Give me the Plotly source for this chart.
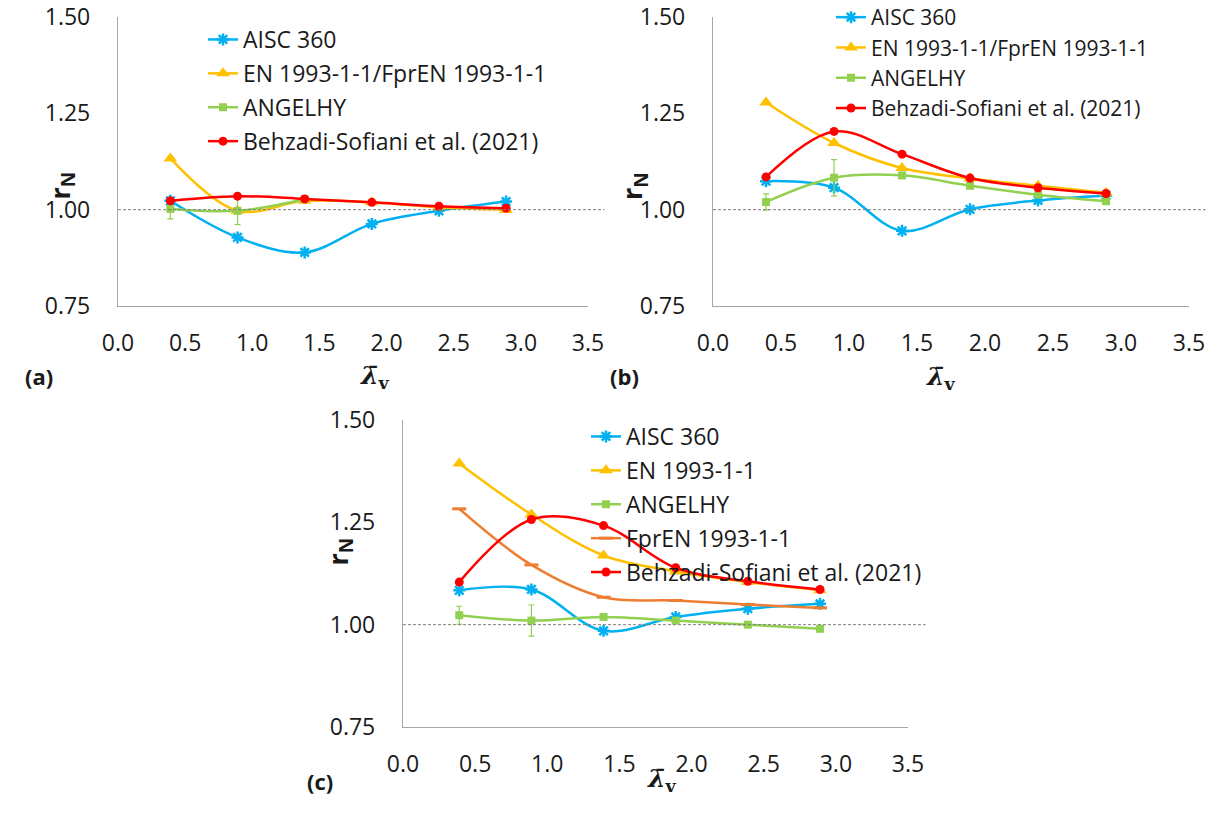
import plotly.graph_objects as go

# ---- data -------------------------------------------------------------
lam = [0.39, 0.89, 1.39, 1.89, 2.39, 2.89]

# (a)
a_aisc = [1.023, 0.928, 0.889, 0.963, 0.997, 1.021]
a_en = [1.133, 0.997, 1.023, 1.019, 1.006, 0.999]
a_angelhy = [1.002, 0.997, 1.027]
a_angelhy_err = [0.026, 0.036, None]
a_behzadi = [1.023, 1.035, 1.028, 1.019, 1.009, 1.004]

# (b)
b_aisc = [1.074, 1.057, 0.945, 1.001, 1.024, 1.037]
b_en = [1.278, 1.173, 1.108, 1.081, 1.062, 1.044]
b_angelhy = [1.020, 1.083, 1.089, 1.062, 1.039, 1.022]
b_angelhy_err = [0.021, 0.047, None, None, None, None]
b_behzadi = [1.085, 1.203, 1.144, 1.082, 1.057, 1.042]

# (c)
c_aisc = [1.084, 1.086, 0.985, 1.019, 1.039, 1.051]
c_en = [1.394, 1.269, 1.169, 1.130, 1.104, 1.084]
c_angelhy = [1.023, 1.010, 1.019, 1.010, 1.000, 0.990]
c_angelhy_err = [0.022, 0.038, None, None, None, None]
c_fpren = [1.283, 1.146, 1.067, 1.059, 1.049, 1.041]
c_behzadi = [1.104, 1.257, 1.242, 1.139, 1.106, 1.086]

x_ticks = [0.0, 0.5, 1.0, 1.5, 2.0, 2.5, 3.0, 3.5]
y_ticks = [0.75, 1.00, 1.25, 1.50]

# ---- styling ----------------------------------------------------------
W, H = 1220, 816
FONT = "Open Sans"
TXT = "#1a1a1a"
BLUE, YELLOW, GREEN, RED, ORANGE = "#00B0F0", "#FFC000", "#92D050", "#FF0000", "#ED7D31"
AXIS_GREY = "#A6A6A6"

STYLES = {
    "aisc": dict(color=BLUE, symbol="asterisk-open", size=10, lw=2.5),
    "en": dict(color=YELLOW, symbol="triangle-up", size=12, lw=0),
    "angelhy": dict(color=GREEN, symbol="square", size=8, lw=0),
    "fpren": dict(color=ORANGE, symbol="line-ew-open", size=10, lw=3),
    "behzadi": dict(color=RED, symbol="circle", size=9, lw=0),
}


def series(key, name, y, xa, ya, legend, err=None):
    st = STYLES[key]
    marker = dict(color=st["color"], symbol=st["symbol"], size=st["size"])
    if st["lw"]:
        marker["line"] = dict(color=st["color"], width=st["lw"])
    tr = go.Scatter(
        x=lam[:len(y)], y=y, name=name, mode="lines+markers",
        line=dict(color=st["color"], width=2.5, shape="spline", smoothing=1.0),
        marker=marker, xaxis=xa, yaxis=ya, legend=legend,
        legendgroup=legend + key, cliponaxis=False,
    )
    if err is not None:
        tr.error_y = dict(type="data", array=err, visible=True,
                          color=GREEN, thickness=1.2, width=3)
    return tr


fig = go.Figure()

panel_a = [
    series("aisc", "AISC 360", a_aisc, "x", "y", "legend"),
    series("en", "EN 1993-1-1/FprEN 1993-1-1", a_en, "x", "y", "legend"),
    series("angelhy", "ANGELHY", a_angelhy, "x", "y", "legend", a_angelhy_err),
    series("behzadi", "Behzadi-Sofiani et al. (2021)", a_behzadi, "x", "y", "legend"),
]
panel_b = [
    series("aisc", "AISC 360", b_aisc, "x2", "y2", "legend2"),
    series("en", "EN 1993-1-1/FprEN 1993-1-1", b_en, "x2", "y2", "legend2"),
    series("angelhy", "ANGELHY", b_angelhy, "x2", "y2", "legend2", b_angelhy_err),
    series("behzadi", "Behzadi-Sofiani et al. (2021)", b_behzadi, "x2", "y2", "legend2"),
]
panel_c = [
    series("aisc", "AISC 360", c_aisc, "x3", "y3", "legend3"),
    series("en", "EN 1993-1-1", c_en, "x3", "y3", "legend3"),
    series("angelhy", "ANGELHY", c_angelhy, "x3", "y3", "legend3", c_angelhy_err),
    series("fpren", "FprEN 1993-1-1", c_fpren, "x3", "y3", "legend3"),
    series("behzadi", "Behzadi-Sofiani et al. (2021)", c_behzadi, "x3", "y3", "legend3"),
]
for tr in panel_a + panel_b + panel_c:
    fig.add_trace(tr)

# panel frames in pixels: left, right, top, bottom
frames = {
    "": (118, 588, 17, 306),
    "2": (713, 1189, 17, 306),
    "3": (403, 908, 420, 727),
}

layout = dict(
    width=W, height=H, margin=dict(l=0, r=0, t=0, b=0, autoexpand=False),
    paper_bgcolor="white", plot_bgcolor="white",
    font=dict(family=FONT, size=23, color=TXT),
    showlegend=True,
)
for k, (l, r, t, b) in frames.items():
    layout["xaxis" + k] = dict(
        domain=[l / W, r / W], range=[0, 3.5], tickvals=x_ticks, tickformat=".1f",
        showline=True, linecolor=AXIS_GREY, linewidth=1.3, showgrid=False,
        zeroline=False, ticks="", ticklabelstandoff=16, anchor="y" + k,
        tickfont=dict(size=23), automargin=False,
    )
    layout["yaxis" + k] = dict(
        domain=[1 - b / H, 1 - t / H], range=[0.75, 1.5], tickvals=y_ticks,
        tickformat=".2f", showline=True, linecolor=AXIS_GREY, linewidth=1.3,
        showgrid=False, zeroline=False, ticks="", ticklabelstandoff=22,
        anchor="x" + k, tickfont=dict(size=23), automargin=False,
    )

legend_common = dict(
    bgcolor="rgba(0,0,0,0)", borderwidth=0, traceorder="grouped",
    xanchor="left", yanchor="top", itemwidth=30,
)
layout["legend"] = dict(legend_common, x=203 / W, y=1 - 18 / H,
                        font=dict(family=FONT, size=23), tracegroupgap=1)
layout["legend2"] = dict(legend_common, x=831 / W, y=1 + 3 / H,
                         font=dict(family=FONT, size=21), tracegroupgap=0)
layout["legend3"] = dict(legend_common, x=586 / W, y=1 - 415 / H,
                         font=dict(family=FONT, size=23), tracegroupgap=1)
fig.update_layout(**layout)

# reference line at r_N = 1.00, running a little past the plot edge
for k in ["", "2", "3"]:
    fig.add_shape(type="line", xref=("x" + k) + " domain", yref="y" + k,
                  x0=0, x1=1.035, y0=1.0, y1=1.0,
                  line=dict(color="#7F7F7F", width=1, dash="3px,2px"))

# axis titles and panel tags
ytitle = "<b>r<sub>N</sub></b>"
xtitle = "<b><i>λ̄</i><sub>v</sub></b>"
ann = []
for (x, y) in [(38, 170), (633, 170), (316, 568)]:
    ann.append(dict(text=ytitle, x=x / W, y=1 - y / H, xref="paper", yref="paper",
                    showarrow=False, textangle=-90,
                    font=dict(family=FONT, size=27, color=TXT)))
for (x, y) in [(358, 377), (958, 378), (662, 798)]:
    ann.append(dict(text=xtitle, x=x / W, y=1 - y / H, xref="paper", yref="paper",
                    showarrow=False,
                    font=dict(family="DejaVu Serif", size=25, color=TXT)))
for (t, x, y) in [("(a)", 23, 376), ("(b)", 624, 376), ("(c)", 305, 798)]:
    ann.append(dict(text="<b>" + t + "</b>", x=x / W, y=1 - y / H, xref="paper",
                    yref="paper", showarrow=False,
                    font=dict(family=FONT, size=22, color=TXT)))
fig.update_layout(annotations=ann)

fig.write_html("out.html")
